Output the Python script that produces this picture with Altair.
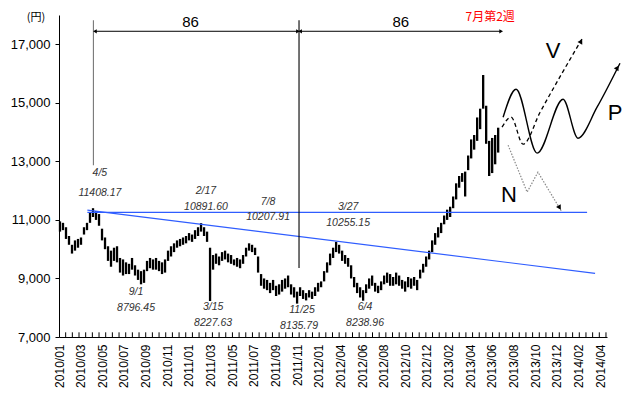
import json
import altair as alt
import pandas as pd

# ---------------- data ----------------
x_labels = ["2010/01", "2010/03", "2010/05", "2010/07", "2010/09", "2010/11",
            "2011/01", "2011/03", "2011/05", "2011/07", "2011/09", "2011/11",
            "2012/01", "2012/04", "2012/06", "2012/08", "2012/10", "2012/12",
            "2013/02", "2013/04", "2013/06", "2013/08", "2013/10", "2013/12",
            "2014/02", "2014/04"]

highs = [10950, 10900, 10750, 10450, 10150, 10300, 10350, 10400, 10750, 10900,
         11250, 11400, 11300, 11200, 10700, 10400, 10100, 9950, 10050, 10100,
         9700, 9650, 9550, 9500, 9700, 9450, 9300, 9250, 9300, 9600,
         9700, 9650, 9700, 9600, 9550, 9650, 9950, 10100, 10200, 10300,
         10350, 10400, 10450, 10550, 10500, 10650, 10750, 10890, 10750, 10600,
         10050, 9800, 9850, 9750, 9900, 9950, 9850, 9800, 9650, 9700,
         9650, 9800, 10050, 10200, 10150, 10050, 9750, 9150, 9000, 8950,
         8850, 8950, 8750, 8800, 8950, 9000, 9100, 8800, 8700, 8550,
         8700, 8600, 8500, 8600, 8550, 8700, 8850, 8900, 9250, 9550,
         9850, 10050, 10250, 10150, 9950, 9800, 9700, 9450, 9050, 8850,
         8700, 8600, 8800, 9000, 9100, 8850, 8750, 8900, 9100, 9200,
         9150, 9050, 9200, 9100, 8950, 8900, 9050, 9000, 9050, 8950,
         9300, 9500, 9750, 9950, 10300, 10550, 10750, 10900, 11150, 11350,
         11450, 11800, 12250, 12500, 12600, 12650, 13200, 13750, 13900, 14500,
         14800, 15950, 14900, 13700, 13800, 13900, 14150]

lows = [10600, 10650, 10350, 10150, 9850, 9950, 10050, 10150, 10500, 10650,
        10900, 11100, 11000, 10800, 10300, 10000, 9600, 9400, 9600, 9550,
        9200, 9100, 9150, 9150, 9300, 9100, 8950, 8800, 8850, 9250,
        9350, 9300, 9300, 9250, 9150, 9200, 9600, 9750, 9900, 10050,
        10100, 10150, 10200, 10300, 10250, 10350, 10450, 10600, 10450, 10250,
        8230, 9300, 9500, 9450, 9600, 9650, 9550, 9500, 9450, 9400,
        9350, 9500, 9750, 9950, 9900, 9800, 9200, 8750, 8650, 8600,
        8500, 8600, 8400, 8450, 8550, 8650, 8700, 8450, 8350, 8140,
        8400, 8300, 8250, 8350, 8300, 8400, 8550, 8700, 8900, 9200,
        9450, 9700, 9900, 9850, 9600, 9500, 9400, 9000, 8700, 8500,
        8350, 8240, 8500, 8650, 8750, 8550, 8500, 8600, 8800, 8850,
        8750, 8750, 8800, 8750, 8650, 8550, 8700, 8650, 8750, 8600,
        9000, 9200, 9400, 9650, 9900, 10150, 10400, 10550, 10850, 11000,
        11100, 11400, 11700, 12100, 12300, 11800, 12700, 13100, 13400, 13700,
        14100, 14800, 13600, 12500, 12600, 12900, 13300]

# candle position along the category axis (1 unit = one label step)
FIRST, STEP = 0.046, 0.13867
candle_x = [FIRST + i * STEP for i in range(len(highs))]

# annotations
ann_text = ["4/5", "11408.17", "2/17", "10891.60", "7/8", "10207.91", "3/27", "10255.15",
            "9/1", "8796.45", "3/15", "8227.63", "11/25", "8135.79", "6/4", "8238.96"]
ann_x = [1.89, 1.89, 6.79, 6.79, 9.66, 9.66, 13.36, 13.36,
         3.56, 3.56, 7.12, 7.12, 11.23, 11.09, 14.14, 14.14]
ann_y = [12597, 11915, 11983, 11437, 11608, 11096, 11437, 10891,
         8536, 7990, 8024, 7478, 7921, 7375, 8024, 7478]

# support / resistance lines
blue_id = ["h", "h", "d", "d"]
blue_x = [1.31, 24.40, 1.31, 24.77]
blue_y = [11260, 11260, 11335, 9174]

# scenario curves
p_x = [20.52, 21.12, 22.09, 23.29, 23.98, 24.86, 25.92]
p_y = [14509, 15464, 13280, 15123, 13792, 14850, 16352]
v_x = [20.47, 20.89, 21.44, 22.23, 24.21]
v_y = [14167, 14509, 13587, 14679, 17239]
n_x = [20.75, 21.63, 22.13, 23.24]
n_y = [13553, 11949, 12632, 11266]

head_x = [25.80, 24.12, 23.13]
head_y = [16198, 17102, 11420]
head_angle = [31, 29, 149]

# period arrows (86 weeks each)
span_x1 = [1.66, 11.14]
span_x2 = [11.04, 20.43]
span_y = 17444
span_label_x = [6.08, 15.79]
span_label_y = 17761

# vertical marker lines
vline_x = [1.59, 11.09]
vline_y1 = [12870, 9355]
vline_y2 = [17819, 17819]

minor_ticks = [k * 0.3082 for k in range(1, 83)]

# ---------------- scales ----------------
xs = alt.Scale(domain=[0, 25.32], nice=False, zero=False)
ys = alt.Scale(domain=[7000, 18000], nice=False, zero=False)
FONT = "Liberation Sans"


def X(field="x", axis=None):
    return alt.X(f"{field}:Q", scale=xs, axis=axis)


def Y(field="y", axis=None):
    return alt.Y(f"{field}:Q", scale=ys, axis=axis)


label_expr = json.dumps(x_labels) + "[datum.value]"

candles_df = pd.DataFrame({"x": candle_x, "low": lows, "high": highs})
candles = alt.Chart(candles_df).mark_rule(color="black", strokeWidth=2.3).encode(
    x=X("x", alt.Axis(values=list(range(len(x_labels))), labelExpr=label_expr,
                      labelAngle=270, labelFont=FONT, labelFontSize=12,
                      labelColor="black", tickSize=0, labelPadding=7,
                      labelFlush=False, labelOverlap=False, labelBound=False,
                      grid=False, domainColor="black", domainWidth=1, title=None)),
    y=Y("low", alt.Axis(values=list(range(7000, 18000, 2000)), format=",.0f",
                        labelFont=FONT, labelFontSize=13, labelColor="black",
                        tickSize=4, tickColor="black", labelPadding=5,
                        grid=False, domainColor="black", domainWidth=1, title=None)),
    y2="high:Q",
)

ticks_df = pd.DataFrame({"x": minor_ticks, "y": 7000, "y2": 7160})
ticks = alt.Chart(ticks_df).mark_rule(color="black", strokeWidth=1).encode(
    x=X(), y=Y(), y2="y2:Q")

blue_df = pd.DataFrame({"id": blue_id, "x": blue_x, "y": blue_y})
blue = alt.Chart(blue_df).mark_line(color="#2f5dff", strokeWidth=1.2).encode(
    x=X(), y=Y(), detail="id:N")

vl_df = pd.DataFrame({"x": vline_x, "y": vline_y1, "y2": vline_y2,
                      "c": ["#777777", "#000000"]})
vlines = alt.Chart(vl_df).mark_rule(strokeWidth=1.1).encode(
    x=X(), y=Y(), y2="y2:Q", color=alt.Color("c:N", scale=None))

span_df = pd.DataFrame({"x": span_x1, "x2": span_x2, "y": span_y})
spans = alt.Chart(span_df).mark_rule(color="black", strokeWidth=1).encode(
    x=X(), x2="x2:Q", y=Y())
span_heads_l = alt.Chart(span_df).mark_point(shape="triangle-left", filled=True,
                                             color="black", size=18, opacity=1).encode(
    x=X(), y=Y())
span_heads_r = alt.Chart(span_df).mark_point(shape="triangle-right", filled=True,
                                             color="black", size=18, opacity=1).encode(
    x=X("x2"), y=Y())
span_lbl_df = pd.DataFrame({"x": span_label_x, "y": span_label_y, "t": ["86", "86"]})
span_lbls = alt.Chart(span_lbl_df).mark_text(font=FONT, fontSize=15, color="black").encode(
    x=X(), y=Y(), text="t:N")

p_line = alt.Chart(pd.DataFrame({"x": p_x, "y": p_y})).mark_line(
    color="black", strokeWidth=1.4, interpolate="monotone").encode(x=X(), y=Y())
v_line = alt.Chart(pd.DataFrame({"x": v_x, "y": v_y})).mark_line(
    color="black", strokeWidth=1.3, strokeDash=[4, 3], interpolate="monotone").encode(x=X(), y=Y())
n_line = alt.Chart(pd.DataFrame({"x": n_x, "y": n_y})).mark_line(
    color="#888888", strokeWidth=1.2, strokeDash=[1.5, 1.5]).encode(x=X(), y=Y())

heads_df = pd.DataFrame({"x": head_x, "y": head_y, "a": head_angle})
heads = alt.Chart(heads_df).mark_point(shape="triangle-up", filled=True, color="black",
                                       size=30, opacity=1).encode(
    x=X(), y=Y(), angle=alt.Angle("a:Q", scale=None))

sc_df = pd.DataFrame({"x": [22.83, 25.69, 20.79], "y": [16761, 14645, 11846],
                      "t": ["V", "P", "N"]})
sc_lbls = alt.Chart(sc_df).mark_text(font=FONT, fontSize=22, color="black").encode(
    x=X(), y=Y(), text="t:N")

ann_df = pd.DataFrame({"x": ann_x, "y": ann_y, "t": ann_text})
anns = alt.Chart(ann_df).mark_text(font=FONT, fontSize=10.5, fontStyle="italic",
                                   color="#333333").encode(x=X(), y=Y(), text="t:N")

week_lbl = alt.Chart(pd.DataFrame({"x": [19.92], "y": [17930], "t": ["7月第2週"]})).mark_text(
    font="Noto Sans CJK JP", fontSize=12, color="#ff0000").encode(x=X(), y=Y(), text="t:N")
unit_lbl = alt.Chart(pd.DataFrame({"x": [-1.06], "y": [17900], "t": ["(円)"]})).mark_text(
    font="Noto Sans CJK JP", fontSize=11, color="black").encode(x=X(), y=Y(), text="t:N")

chart = alt.layer(
    candles, ticks, blue, vlines, spans, span_heads_l, span_heads_r, span_lbls,
    p_line, v_line, n_line, heads, sc_lbls, anns, week_lbl, unit_lbl,
).resolve_axis(x="independent", y="independent").properties(
    width=548, height=322,
    padding={"left": 51, "top": 7, "right": 15, "bottom": 53},
    autosize=alt.AutoSizeParams(type="none"),
    background="white",
).configure_view(stroke=None)

chart.save("out.html", embed_options={"renderer": "svg", "actions": False})
